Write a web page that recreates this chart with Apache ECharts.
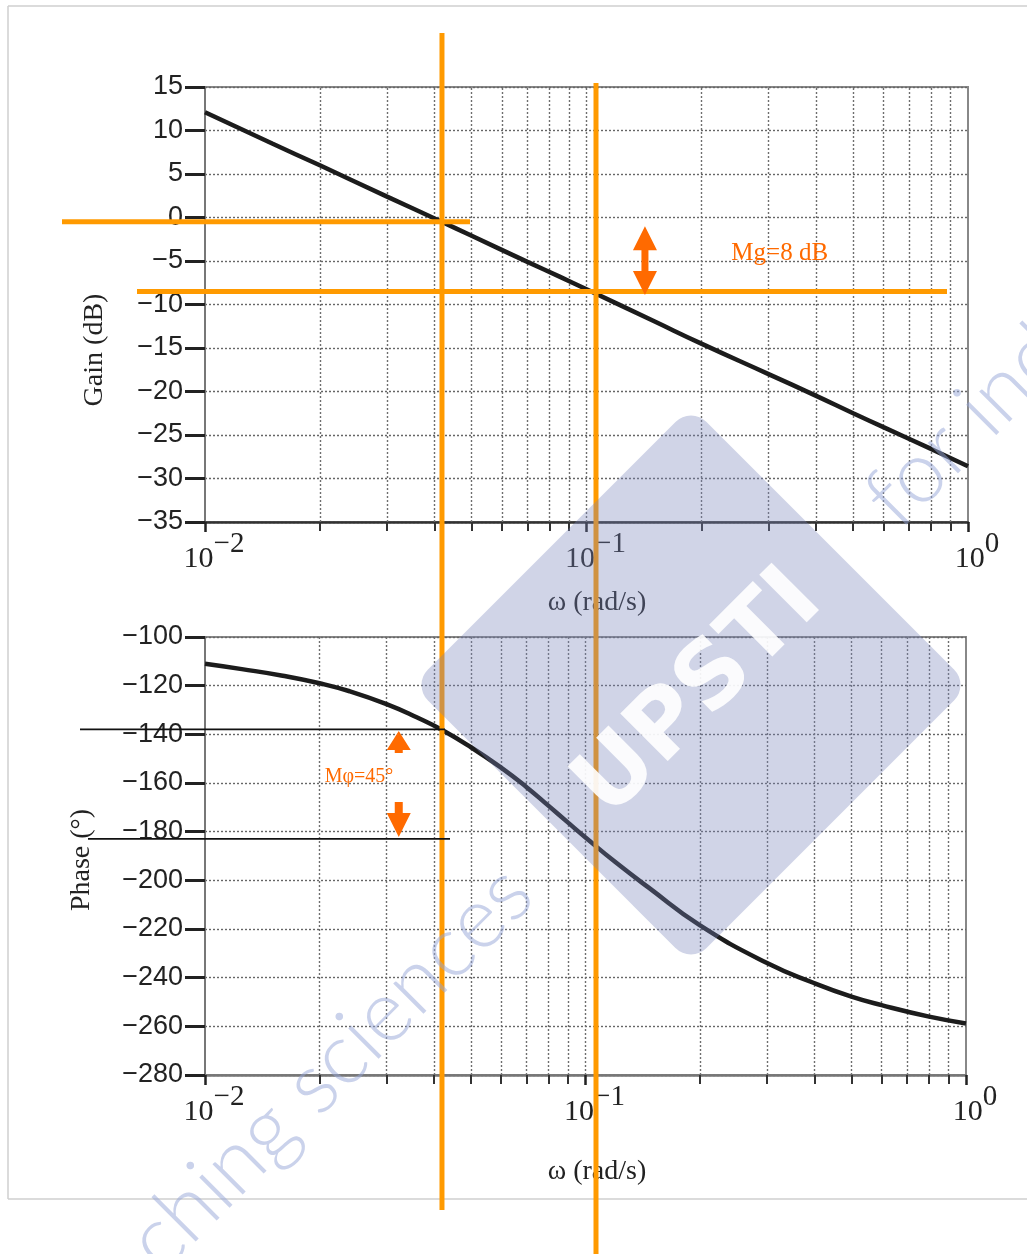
<!DOCTYPE html>
<html><head><meta charset="utf-8">
<script src="https://cdn.jsdelivr.net/npm/echarts@6/dist/echarts.min.js"></script>
<style>html,body{margin:0;padding:0;background:#fff}#c{width:1027px;height:1254px}</style>
</head><body><div id="c"></div>
<script>
// ---- data ----
const omegaGain = [0.01, 0.015, 0.02, 0.03, 0.0413, 0.05, 0.07, 0.085, 0.1, 0.15, 0.2, 0.3, 0.4, 0.5, 0.6, 0.8, 1.0];
const gainDb    = [12.1, 8.5, 6.0, 2.4, -0.4, -2.1, -5.1, -6.8, -8.25, -11.9, -14.5, -18.0, -20.5, -22.5, -24.1, -26.6, -28.6];
const omegaPhase = [0.01, 0.0125, 0.016, 0.02, 0.024, 0.03, 0.036, 0.042, 0.05, 0.06, 0.07, 0.08, 0.09, 0.1, 0.12, 0.146, 0.2, 0.3, 0.4, 0.5, 0.6, 0.8, 1.0];
const phaseDeg   = [-111, -113.2, -115.9, -119.0, -122.3, -127.6, -133.0, -138.2, -145.3, -153.7, -161.7, -169.4, -176.3, -182.4, -192.6, -202.8, -218.5, -234, -242.3, -247.8, -251.3, -256, -258.8];
const xGridValues = [0.02, 0.03, 0.04, 0.05, 0.06, 0.07, 0.08, 0.09, 0.1, 0.2, 0.3, 0.4, 0.5, 0.6, 0.7, 0.8, 0.9];
const xTickExponents = ['−2', '−1', '0'];   // labels of 10^-2, 10^-1, 10^0
// annotations
const crossOmega = 0.0418;      // gain crossover
const phase180Omega = 0.1059;   // phase = -180
const gainRefLines = [-0.5, -8.5];
const phaseRefLines = [-138, -183];
const mgArrow = {omega: 0.1423, top: -1.0, bottom: -8.9};
const mgText = {omega: 0.321, value: -4.1, text: 'Mg=8 dB'};
const mphiArrow = {omega: 0.0323, up: -138.2, down: -182.2};
const mphiText = {omega: 0.0254, value: -157.5, text: 'Mφ=45°'};

const SERIF = '"Liberation Serif","DejaVu Serif",serif';
const SANS = '"Liberation Sans","DejaVu Sans",sans-serif';

function expLabel(v) {
  const e = Math.round(Math.log10(v));
  const s = xTickExponents[e + 2];
  return '{b|10}{s|' + s + '}';
}

function xAxis(i) {
  return {
    type: 'log', logBase: 10, min: 0.01, max: 1, gridIndex: i,
    axisLine: {show: true, onZero: false, lineStyle: {color: i === 0 ? '#333' : '#777', width: 2.5}},
    axisTick: {show: true, inside: false, length: 10, lineStyle: {color: '#222', width: 2.5}},
    minorTick: {show: true, splitNumber: 9, length: 9, lineStyle: {color: '#333', width: 2}},
    splitLine: {show: false},
    axisLabel: {
      formatter: expLabel, margin: 8, padding: [0, 0, 0, 18],
      rich: {
        b: {fontSize: 30, fontFamily: SERIF, color: '#222', lineHeight: 44, verticalAlign: 'bottom'},
        s: {fontSize: 29, fontFamily: SERIF, color: '#222', lineHeight: 30, verticalAlign: 'top'}
      }
    }
  };
}
function yAxis(i, min, max, interval) {
  return {
    type: 'value', gridIndex: i, min: min, max: max, interval: interval,
    axisLine: {show: true, lineStyle: {color: '#777', width: 2}},
    axisTick: {show: true, inside: false, length: 20, lineStyle: {color: '#222', width: 3}},
    axisLabel: {fontSize: 27, fontFamily: SANS, color: '#222', margin: 22,
      formatter: v => String(v).replace('-', '−')},
    splitLine: {show: true, lineStyle: {color: '#666', type: [2, 2], width: 1.4}}
  };
}
function gridSeries(i) {
  return {
    type: 'line', xAxisIndex: i, yAxisIndex: i, data: [], silent: true, z: 1,
    markLine: {
      silent: true, symbol: ['none', 'none'], label: {show: false}, animation: false,
      lineStyle: {color: '#6e6e6e', type: [2, 2], width: 1.4},
      emphasis: {disabled: true},
      data: xGridValues.map(v => ({xAxis: v}))
    }
  };
}

const option = {
  animation: false,
  backgroundColor: '#fff',
  grid: [
    {left: 205, top: 87, width: 763, height: 435, show: true, borderColor: '#888', borderWidth: 2},
    {left: 205, top: 637, width: 761, height: 438, show: true, borderColor: '#888', borderWidth: 2}
  ],
  xAxis: [xAxis(0), xAxis(1)],
  yAxis: [yAxis(0, -35, 15, 5), yAxis(1, -280, -100, 20)],
  series: [
    gridSeries(0), gridSeries(1),
    {type: 'line', xAxisIndex: 0, yAxisIndex: 0, z: 5, smooth: 0.5, showSymbol: false,
     lineStyle: {color: '#1c1c1c', width: 4.5},
     data: omegaGain.map((w, k) => [w, gainDb[k]])},
    {type: 'line', xAxisIndex: 1, yAxisIndex: 1, z: 5, smooth: 0.5, showSymbol: false,
     lineStyle: {color: '#1c1c1c', width: 4.5},
     data: omegaPhase.map((w, k) => [w, phaseDeg[k]])}
  ]
};

const chart = echarts.init(document.getElementById('c'), null, {renderer: 'canvas'});
chart.setOption(option);

function px(g, x, y) { return chart.convertToPixel({gridIndex: g}, [x, y]); }
const ORANGE = '#FF9A00', RED = '#FF6A00';
const g = [];
// screenshot frame
g.push({type: 'line', shape: {x1: 8, y1: 6, x2: 1027, y2: 6}, style: {stroke: '#cfcfcf', lineWidth: 1.5}, z: 1});
g.push({type: 'line', shape: {x1: 8, y1: 6, x2: 8, y2: 1199}, style: {stroke: '#cfcfcf', lineWidth: 1.5}, z: 1});
g.push({type: 'line', shape: {x1: 8, y1: 1199, x2: 1027, y2: 1199}, style: {stroke: '#cfcfcf', lineWidth: 1.5}, z: 1});
// axis titles
const titleStyle = (t) => ({text: t, font: '28px ' + SERIF, fill: '#222', align: 'center', verticalAlign: 'middle'});
g.push({type: 'text', x: 95, y: 350, rotation: Math.PI / 2, style: titleStyle('Gain (dB)'), z: 10});
g.push({type: 'text', x: 82, y: 860, rotation: Math.PI / 2, style: titleStyle('Phase (°)'), z: 10});
g.push({type: 'text', x: 597, y: 603, style: titleStyle('ω (rad/s)'), z: 10});
g.push({type: 'text', x: 597, y: 1172, style: titleStyle('ω (rad/s)'), z: 10});
// orange reference lines
const xc = px(0, crossOmega, 0)[0];
const x180 = px(0, phase180Omega, 0)[0];
g.push({type: 'line', shape: {x1: xc, y1: 33, x2: xc, y2: 1210}, style: {stroke: ORANGE, lineWidth: 5}, z: 20});
g.push({type: 'line', shape: {x1: x180, y1: 83, x2: x180, y2: 1254}, style: {stroke: ORANGE, lineWidth: 5}, z: 20});
const yg0 = px(0, 0.01, gainRefLines[0])[1];
const yg1 = px(0, 0.01, gainRefLines[1])[1];
g.push({type: 'line', shape: {x1: 62, y1: yg0, x2: 470, y2: yg0}, style: {stroke: ORANGE, lineWidth: 5}, z: 20});
g.push({type: 'line', shape: {x1: 137, y1: yg1, x2: 947, y2: yg1}, style: {stroke: ORANGE, lineWidth: 5}, z: 20});
const yp0 = px(1, 0.01, phaseRefLines[0])[1];
const yp1 = px(1, 0.01, phaseRefLines[1])[1];
g.push({type: 'line', shape: {x1: 80, y1: yp0, x2: 445, y2: yp0}, style: {stroke: '#111', lineWidth: 1.8}, z: 20});
g.push({type: 'line', shape: {x1: 88, y1: yp1, x2: 450, y2: yp1}, style: {stroke: '#111', lineWidth: 1.8}, z: 20});
// Mg double arrow
(function () {
  const ax = px(0, mgArrow.omega, 0)[0];
  const t = px(0, 0.01, mgArrow.top)[1], b = px(0, 0.01, mgArrow.bottom)[1];
  const H = 24, W = 12, S = 3.5;
  g.push({type: 'polygon', z: 21, style: {fill: RED},
    shape: {points: [[ax, t], [ax + W, t + H], [ax + S, t + H], [ax + S, b - H], [ax + W, b - H], [ax, b],
                     [ax - W, b - H], [ax - S, b - H], [ax - S, t + H], [ax - W, t + H]]}});
})();
// Mphi arrows
(function () {
  const ax = px(1, mphiArrow.omega, 0)[0];
  const u = px(1, 0.01, mphiArrow.up)[1] + 1, d = px(1, 0.01, mphiArrow.down)[1];
  g.push({type: 'polygon', z: 21, style: {fill: RED},
    shape: {points: [[ax, u], [ax + 12, u + 19], [ax + 4, u + 19], [ax + 4, u + 22], [ax - 4, u + 22], [ax - 4, u + 19], [ax - 12, u + 19]]}});
  g.push({type: 'polygon', z: 21, style: {fill: RED},
    shape: {points: [[ax, d], [ax + 12, d - 24], [ax + 4, d - 24], [ax + 4, d - 35], [ax - 4, d - 35], [ax - 4, d - 24], [ax - 12, d - 24]]}});
})();
const pMg = px(0, mgText.omega, mgText.value);
g.push({type: 'text', x: pMg[0], y: pMg[1], z: 21, style: {text: mgText.text, font: '25px ' + SERIF, fill: RED, align: 'center', verticalAlign: 'middle'}});
const pMp = px(1, mphiText.omega, mphiText.value);
g.push({type: 'text', x: pMp[0], y: pMp[1], z: 21, style: {text: mphiText.text, font: '20px ' + SERIF, fill: RED, align: 'center', verticalAlign: 'middle'}});
// watermark
g.push({type: 'rect', x: 691, y: 685, rotation: Math.PI / 4, z: 30, silent: true,
  shape: {x: -197, y: -197, width: 394, height: 394, r: 22},
  style: {fill: 'rgba(120,132,185,0.35)'}});
g.push({type: 'text', x: 700, y: 695, rotation: Math.PI / 4, z: 31, silent: true,
  style: {text: 'UPSTI', font: 'bold 92px "DejaVu Sans",sans-serif', fill: 'rgba(255,255,255,0.9)', align: 'center', verticalAlign: 'middle'}});
g.push({type: 'text', x: 518, y: 880, rotation: Math.PI / 4, z: 31, silent: true,
  style: {text: 'teaching sciences', font: '300 86px Lato,"DejaVu Sans",sans-serif', fill: 'rgba(150,165,215,0.5)', align: 'right', verticalAlign: 'middle'}});
g.push({type: 'text', x: 880, y: 512, rotation: Math.PI / 4, z: 31, silent: true,
  style: {text: 'for industry', font: '300 86px Lato,"DejaVu Sans",sans-serif', fill: 'rgba(150,165,215,0.5)', align: 'left', verticalAlign: 'middle'}});

chart.setOption({graphic: {elements: g}});
</script></body></html>
